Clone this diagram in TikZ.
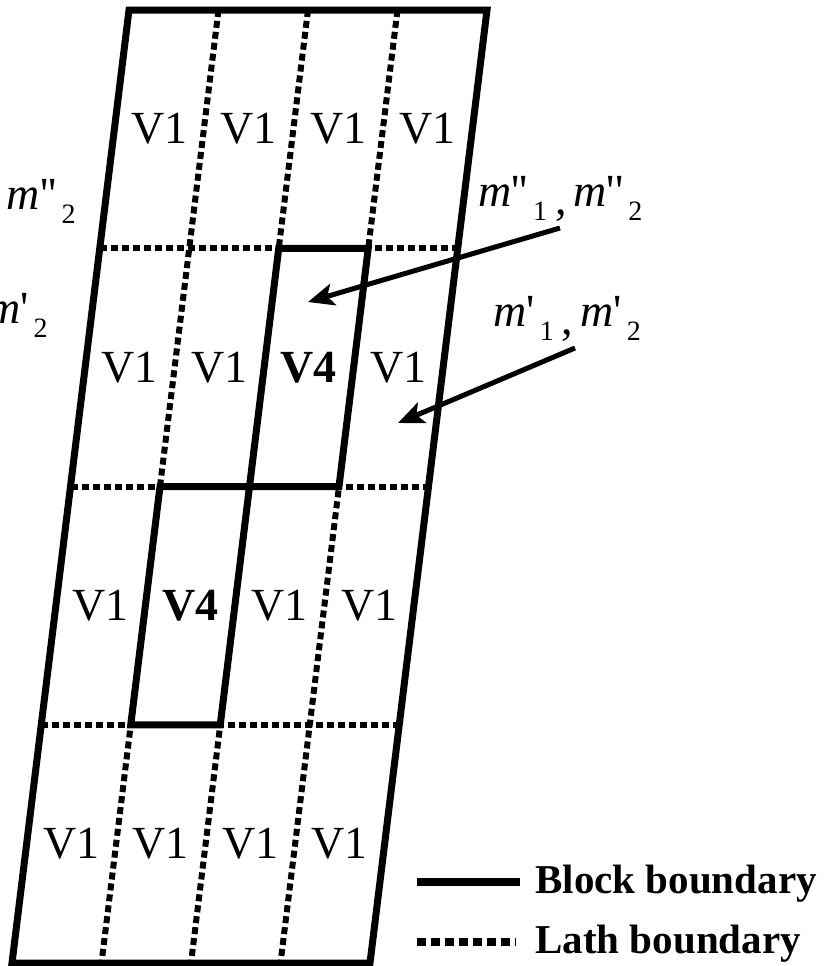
\documentclass[tikz,border=0pt]{standalone}
\usepackage{fontspec}
\setmainfont{Liberation Serif}
\usetikzlibrary{arrows.meta}
\newcommand\lsub[1]{\hspace{2.5pt}\raisebox{-7pt}{\fontsize{14}{15}\selectfont #1}}
\newcommand\lcomma{\hspace{4pt}\raisebox{-4pt}{,}\hspace{3.5pt}}
\newcommand\msing{\textit{m}\textquotesingle}
\newcommand\mdoub{\textit{m}\textquotesingle\textquotesingle}
\begin{document}
\begin{tikzpicture}[x=0.5pt, y=-0.5pt,
    block/.style={line width=3.5pt},
    lath/.style={line width=3pt, dash pattern=on 3.5pt off 2pt},
    arr/.style={-{Stealth[length=13pt, width=11pt, inset=3pt]}, line width=2.5pt},
    cell/.style={inner sep=0pt, font=\fontsize{23}{27}\selectfont},
    lbl/.style={inner sep=0pt, font=\fontsize{23}{27}\selectfont},
    key/.style={inner sep=0pt, anchor=base west, font=\bfseries\fontsize{20.5}{24}\selectfont}]
  \clip (0,0) rectangle (833,966);
  \foreach \c in {0,...,4}
    \foreach \r in {0,...,4}
      \coordinate (p\c\r) at ({129+89.5*\c-29.25*\r},{10+238.25*\r});
  \foreach \c in {1,2,3}
    \draw[lath] (p\c0) -- (p\c4);
  \foreach \r in {1,2,3}
    \draw[lath] (p0\r) -- (p4\r);
  \draw[block] (p00) -- (p40) -- (p44) -- (p04) -- cycle;
  \draw[block] (p21) -- (p31) -- (p32) -- (p22) -- cycle;
  \draw[block] (p12) -- (p22) -- (p23) -- (p13) -- cycle;
  \foreach \c/\r/\t in {0/0/V1, 1/0/V1, 2/0/V1, 3/0/V1,
                        0/1/V1, 1/1/V1, 2/1/\textbf{V4}, 3/1/V1,
                        0/2/V1, 1/2/\textbf{V4}, 2/2/V1, 3/2/V1,
                        0/3/V1, 1/3/V1, 2/3/V1, 3/3/V1}
    \node[cell] (v\c\r) at ({129+89.5*(\c+0.5)-29.25*(\r+0.5)},{10+238.25*(\r+0.5)}) {\t};
  \node[lbl, anchor=base west] (mdd) at (478,206) {\mdoub\lsub{1}\lcomma\mdoub\lsub{2}};
  \node[lbl, anchor=base west] (mss) at (493,326) {\msing\lsub{1}\lcomma\msing\lsub{2}};
  \node[lbl, anchor=base east] (mddl) at (76,209) {\mdoub\lsub{2}};
  \node[lbl, anchor=base east] (mssl) at (48,323) {\msing\lsub{2}};
  \coordinate (tailA) at (560,228);
  \coordinate (tipA) at (308,302);
  \coordinate (tailB) at (575,348);
  \coordinate (tipB) at (398,423);
  \draw[arr] (tailA) -- (tipA);
  \draw[arr] (tailB) -- (tipB);
  \coordinate (ka1) at (417,882);
  \coordinate (ka2) at (520,882);
  \coordinate (kb1) at (417,942);
  \coordinate (kb2) at (516,942);
  \draw[line width=4pt] (ka1) -- (ka2);
  \draw[line width=4pt, dash pattern=on 4.5pt off 2.5pt] (kb1) -- (kb2);
  \node[key] (kblock) at (535,893) {Block boundary};
  \node[key] (klath) at (535,953) {Lath boundary};
\end{tikzpicture}
\end{document}
